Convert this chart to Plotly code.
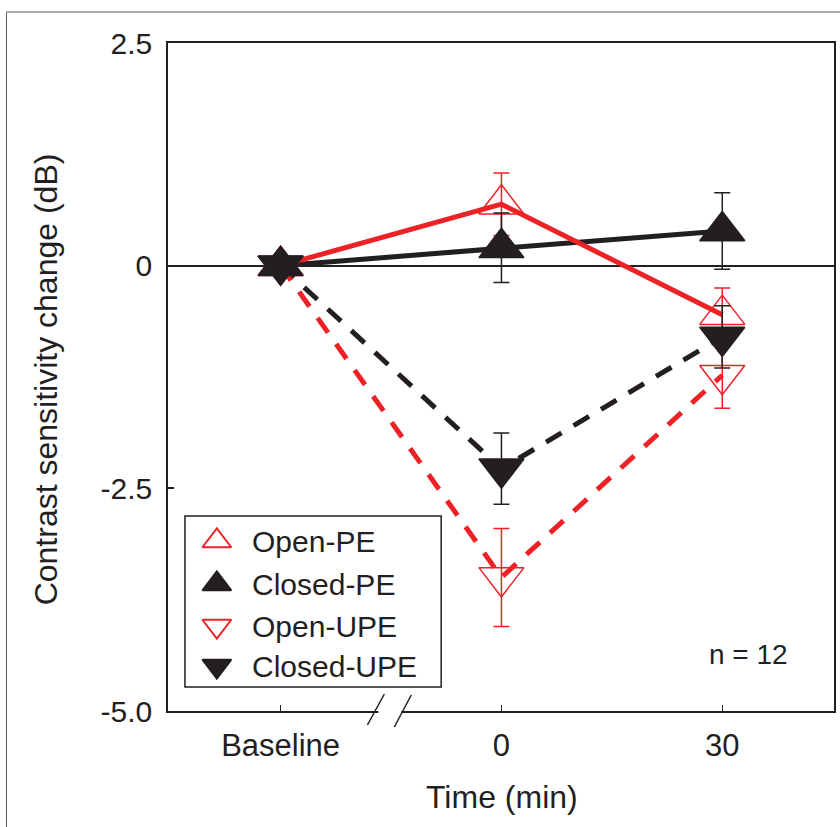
import plotly.graph_objects as go

# ---------------- data ----------------
time_labels = ["Baseline", "0", "30"]
open_pe = [0.0, 0.69, -0.55]
open_pe_err = [0.0, 0.35, 0.30]
closed_pe = [0.0, 0.20, 0.39]
closed_pe_err = [0.0, 0.39, 0.43]
open_upe = [0.0, -3.50, -1.23]
open_upe_err = [0.0, 0.55, 0.37]
closed_upe = [0.0, -2.28, -0.80]
closed_upe_err = [0.0, 0.40, 0.35]

y_tick_vals = [2.5, 0, -2.5, -5.0]
y_tick_text = ["2.5", "0", "-2.5", "-5.0"]
legend_names = ["Open-PE", "Closed-PE", "Open-UPE", "Closed-UPE"]

# ---------------- style ----------------
RED = "#ec2227"
BLK = "#231f20"
FONT = "Liberation Sans, Arial, Helvetica, sans-serif"
W, H = 840, 827
L, R, T, B = 168, 4, 43, 116
PW, PH = W - L - R, H - T - B


def px(x):
    return (x - L) / PW


def py(y):
    return (H - B - y) / PH


xpos = list(range(len(time_labels)))

fig = go.Figure()

# lines (below markers)
line_specs = [
    (closed_upe, BLK, "18px,14px"),
    (open_upe, RED, "18px,14px"),
    (closed_pe, BLK, "solid"),
    (open_pe, RED, "solid"),
]
for ys, col, dash in line_specs:
    fig.add_trace(go.Scatter(x=xpos, y=ys, mode="lines",
                             line=dict(color=col, width=5, dash=dash),
                             showlegend=False, hoverinfo="skip"))

# markers with error bars
marker_specs = [
    (open_pe, open_pe_err, RED, "triangle-up-open"),
    (open_upe, open_upe_err, RED, "triangle-down-open"),
    (closed_pe, closed_pe_err, BLK, "triangle-up"),
    (closed_upe, closed_upe_err, BLK, "triangle-down"),
]
for ys, err, col, sym in marker_specs:
    fig.add_trace(go.Scatter(
        x=xpos, y=ys, mode="markers",
        marker=dict(symbol=sym, size=39, color=col, line=dict(color=col, width=1.5)),
        error_y=dict(type="data", array=err, visible=True, color=col,
                     thickness=1.5, width=8),
        showlegend=False, hoverinfo="skip"))

# custom legend markers on a pixel-coordinate overlay axis
leg_x = 217
leg_ys = [541, 584, 626, 666]
leg_syms = ["triangle-up-open", "triangle-up", "triangle-down-open", "triangle-down"]
leg_cols = [RED, BLK, RED, BLK]
fig.add_trace(go.Scatter(
    x=[leg_x] * 4, y=leg_ys, mode="markers", xaxis="x2", yaxis="y2",
    marker=dict(symbol=leg_syms, size=25, color=leg_cols,
                line=dict(color=leg_cols, width=2)),
    showlegend=False, hoverinfo="skip"))

annotations = []
for name, yy in zip(legend_names, leg_ys):
    annotations.append(dict(x=px(250), y=py(yy), xref="paper", yref="paper",
                            text=name, showarrow=False, xanchor="left", yanchor="middle",
                            font=dict(family=FONT, size=30, color=BLK)))
annotations.append(dict(x=px(750), y=py(654), xref="paper", yref="paper",
                        text="n = 12", showarrow=False, xanchor="center", yanchor="middle",
                        font=dict(family=FONT, size=28, color=BLK)))
annotations.append(dict(x=px(503), y=py(797), xref="paper", yref="paper",
                        text="Time (min)", showarrow=False, xanchor="center", yanchor="middle",
                        font=dict(family=FONT, size=32, color=BLK)))
annotations.append(dict(x=px(46), y=py(379), xref="paper", yref="paper",
                        text="Contrast sensitivity change (dB)", textangle=-90,
                        showarrow=False, xanchor="center", yanchor="middle",
                        font=dict(family=FONT, size=32, color=BLK)))

shapes = [
    # outer frame (top & left)
    dict(type="line", xref="paper", yref="paper", x0=px(6), y0=py(12), x1=px(842), y1=py(12),
         line=dict(color="#58595b", width=1)),
    dict(type="line", xref="paper", yref="paper", x0=px(6), y0=py(12), x1=px(6), y1=py(830),
         line=dict(color="#58595b", width=1)),
    # legend box
    dict(type="rect", xref="paper", yref="paper", x0=px(185), y0=py(516), x1=px(442), y1=py(687),
         line=dict(color=BLK, width=1.5), fillcolor="rgba(0,0,0,0)"),
    # axis break
    dict(type="rect", xref="paper", yref="paper", x0=px(379), y0=py(708), x1=px(402), y1=py(714),
         line=dict(width=0), fillcolor="white"),
    dict(type="line", xref="paper", yref="paper", x0=px(368), y0=py(725), x1=px(385), y1=py(694),
         line=dict(color=BLK, width=1.5)),
    dict(type="line", xref="paper", yref="paper", x0=px(395), y0=py(727), x1=px(412), y1=py(695),
         line=dict(color=BLK, width=1.5)),
]

fig.update_layout(
    width=W, height=H,
    margin=dict(l=L, r=R, t=T, b=B, pad=0),
    paper_bgcolor="white", plot_bgcolor="white",
    font=dict(family=FONT, color=BLK),
    showlegend=False,
    xaxis=dict(range=[-0.51, 2.506], tickvals=xpos, ticktext=time_labels,
               showline=True, mirror=True, linecolor=BLK, linewidth=1.5,
               ticks="inside", ticklen=6, tickwidth=1, tickcolor=BLK,
               showgrid=False, zeroline=False, ticklabelstandoff=6,
               tickfont=dict(family=FONT, size=31, color=BLK)),
    yaxis=dict(range=[-5.0, 2.5], tickvals=y_tick_vals, ticktext=y_tick_text,
               showline=True, mirror=True, linecolor=BLK, linewidth=1.5,
               ticks="inside", ticklen=6, tickwidth=1.5, tickcolor=BLK,
               showgrid=False, zeroline=True, zerolinecolor=BLK, zerolinewidth=1.5,
               ticklabelstandoff=8,
               tickfont=dict(family=FONT, size=30, color=BLK)),
    xaxis2=dict(range=[L, W - R], overlaying="x", anchor="y2", visible=False),
    yaxis2=dict(range=[H - B, T], overlaying="y", anchor="x2", visible=False),
    annotations=annotations,
    shapes=shapes,
)

fig.write_html("out.html", config={"displayModeBar": False},
               post_script="document.body.style.margin='0px';document.body.style.overflow='hidden';")
